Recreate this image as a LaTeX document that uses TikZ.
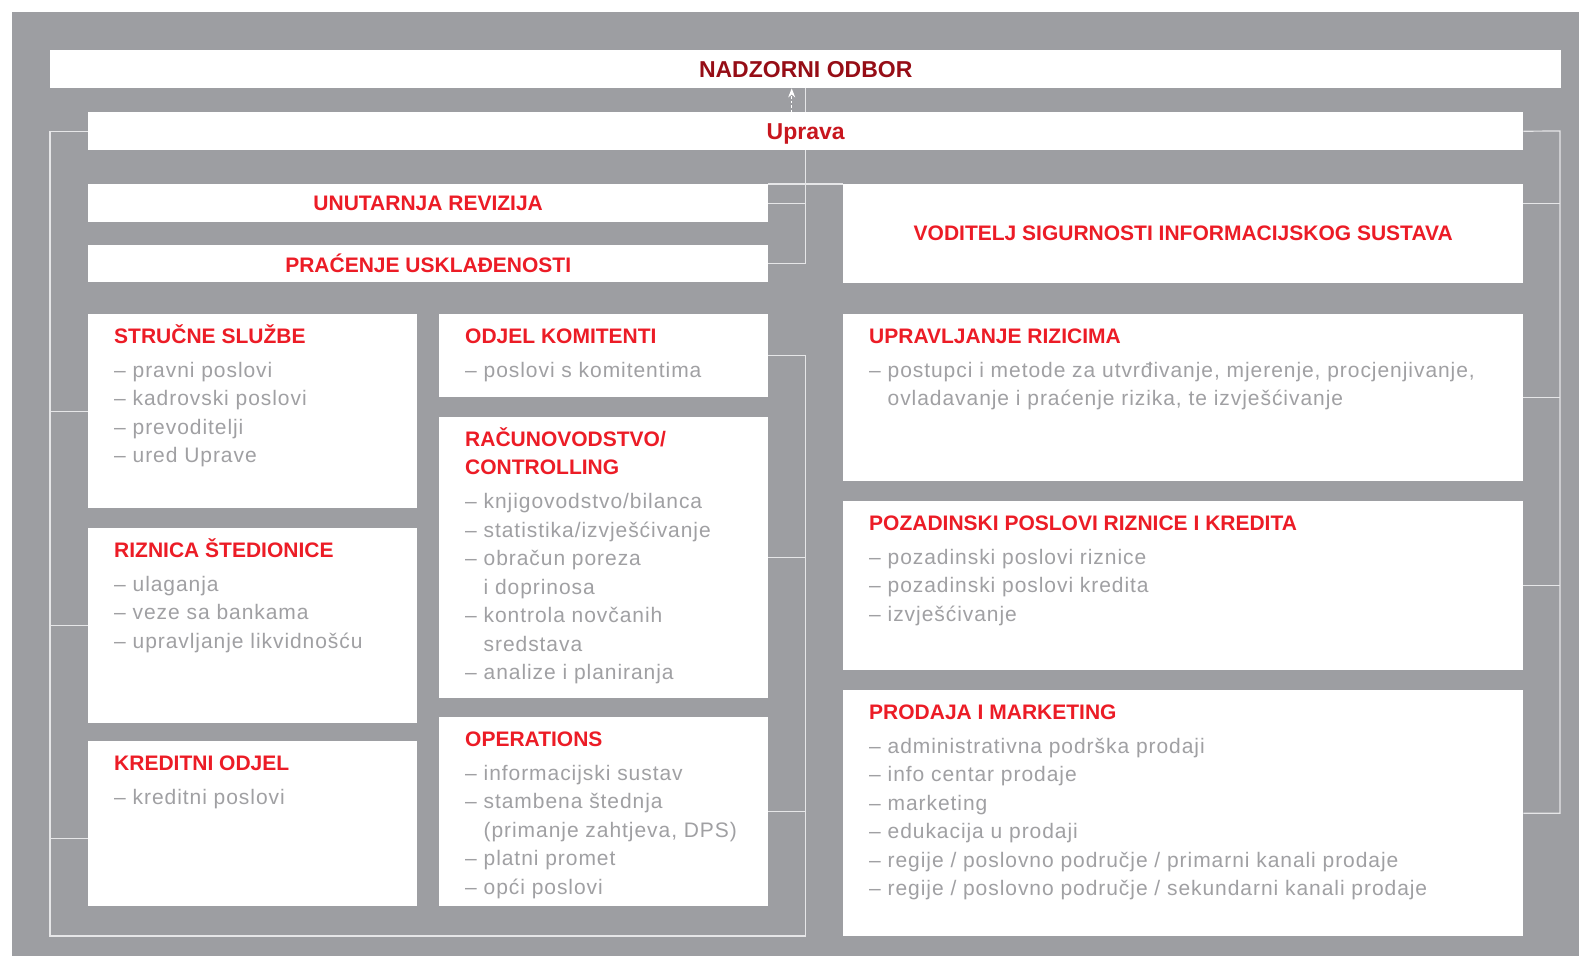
\documentclass[tikz,border=0pt]{standalone}
\usepackage{fontspec}
\setmainfont{Liberation Sans}
\newfontfamily\itemfont[LetterSpace=4.5]{Liberation Sans}
\usepackage{xcolor}
\usepackage{tikz}
\usetikzlibrary{arrows.meta,positioning,calc}
\definecolor{orggrey}{HTML}{9D9EA2}
\definecolor{orgtext}{HTML}{A0A0A3}
\definecolor{orgred}{HTML}{EC1C26}
\definecolor{orgmidred}{HTML}{C8161E}
\definecolor{orgdarkred}{HTML}{960D16}
\definecolor{orgline}{HTML}{E6E6E8}
\newcommand{\unitname}[1]{\rule{0pt}{22pt}{\rmfamily\fontsize{21}{28.5}\selectfont\bfseries\color{orgred}#1}}

\begin{document}
\begin{tikzpicture}[x=1pt,y=-1pt,
  unitbox/.style={rectangle,fill=white,inner sep=0,anchor=north west},
  unittext/.style={anchor=north west,inner sep=0,align=left,text=orgtext,font=\itemfont\fontsize{21}{28.5}\selectfont},
  bandtitle/.style={font=\fontsize{21}{24}\selectfont\bfseries,text=orgred},
  link/.style={draw=orgline,line width=1.2pt}]
  \useasboundingbox (0,0) rectangle (1579,956);
  \fill[white] (0,0) rectangle (1579,956);
  \fill[orggrey] (12,12) rectangle (1579,956);

  % board, management and the staff bands
  \node[unitbox,minimum width=1511pt,minimum height=38pt,font=\fontsize{23}{26}\selectfont\bfseries,text=orgdarkred] (nadzor) at (50,50) {NADZORNI ODBOR};
  \node[unitbox,minimum width=1435pt,minimum height=38pt,font=\fontsize{23}{26}\selectfont\bfseries,text=orgmidred,text depth=0pt] (uprava) at (88,112) {Uprava};
  \node[unitbox,bandtitle,minimum width=680pt,minimum height=38pt] (revizija) at (88,184) {UNUTARNJA REVIZIJA};
  \node[unitbox,bandtitle,minimum width=680pt,minimum height=37pt] (pracenje) at (88,245) {PRAĆENJE USKLAĐENOSTI};
  \node[unitbox,bandtitle,minimum width=680pt,minimum height=99pt] (voditelj) at (843,184) {VODITELJ SIGURNOSTI INFORMACIJSKOG SUSTAVA};

  % departments
  \foreach \nm/\x/\y/\w/\h in {strucne/88/314/329pt/194pt, riznica/88/528/329pt/195pt, kreditni/88/741/329pt/165pt,
    komitenti/439/314/329pt/83pt, racunovodstvo/439/417/329pt/281pt, operations/439/717/329pt/189pt,
    rizici/843/314/680pt/167pt, pozadinski/843/501/680pt/169pt, prodaja/843/690/680pt/246pt}{
      \node[unitbox,minimum width=\w,minimum height=\h] (\nm) at (\x,\y) {};
  }

  \node[unittext] (strucne-t) at ([xshift=26pt,yshift=-7pt]strucne.north west)
    {\unitname{STRUČNE SLUŽBE}\\[5.7pt]– pravni poslovi\\– kadrovski poslovi\\– prevoditelji\\– ured Uprave};
  \node[unittext] (riznica-t) at ([xshift=26pt,yshift=-7pt]riznica.north west)
    {\unitname{RIZNICA ŠTEDIONICE}\\[5.7pt]– ulaganja\\– veze sa bankama\\– upravljanje likvidnošću};
  \node[unittext] (kreditni-t) at ([xshift=26pt,yshift=-7pt]kreditni.north west)
    {\unitname{KREDITNI ODJEL}\\[5.7pt]– kreditni poslovi};
  \node[unittext] (komitenti-t) at ([xshift=26pt,yshift=-7pt]komitenti.north west)
    {\unitname{ODJEL KOMITENTI}\\[5.7pt]– poslovi s komitentima};
  \node[unittext] (racunovodstvo-t) at ([xshift=26pt,yshift=-7pt]racunovodstvo.north west)
    {\unitname{RAČUNOVODSTVO/}\\\unitname{CONTROLLING}\\[5.7pt]– knjigovodstvo/bilanca\\– statistika/izvješćivanje\\– obračun poreza\\\phantom{–\ }i doprinosa\\– kontrola novčanih\\\phantom{–\ }sredstava\\– analize i planiranja};
  \node[unittext] (operations-t) at ([xshift=26pt,yshift=-7pt]operations.north west)
    {\unitname{OPERATIONS}\\[5.7pt]– informacijski sustav\\– stambena štednja\\\phantom{–\ }(primanje zahtjeva, DPS)\\– platni promet\\– opći poslovi};
  \node[unittext] (rizici-t) at ([xshift=26pt,yshift=-7pt]rizici.north west)
    {\unitname{UPRAVLJANJE RIZICIMA}\\[5.7pt]– postupci i metode za utvrđivanje, mjerenje, procjenjivanje,\\\phantom{–\ }ovladavanje i praćenje rizika, te izvješćivanje};
  \node[unittext] (pozadinski-t) at ([xshift=26pt,yshift=-7pt]pozadinski.north west)
    {\unitname{POZADINSKI POSLOVI RIZNICE I KREDITA}\\[5.7pt]– pozadinski poslovi riznice\\– pozadinski poslovi kredita\\– izvješćivanje};
  \node[unittext] (prodaja-t) at ([xshift=26pt,yshift=-7pt]prodaja.north west)
    {\unitname{PRODAJA I MARKETING}\\[5.7pt]– administrativna podrška prodaji\\– info centar prodaje\\– marketing\\– edukacija u prodaji\\– regije / poslovno područje / primarni kanali prodaje\\– regije / poslovno područje / sekundarni kanali prodaje};

  % centre spine
  \draw[link] (nadzor.south) -- (uprava.north);
  \draw[link] (uprava.south) |- (pracenje.east);
  \draw[link] (revizija.east) -- (revizija.east -| uprava.south);
  \draw[link] (revizija.north east) -- (voditelj.north west);
  \draw[white,line width=1pt,dash pattern=on 2.5pt off 2pt,-{Stealth[length=9pt,width=7pt]}]
    ([xshift=-14pt]uprava.north) -- ([xshift=-14pt]nadzor.south);

  % left loop
  \coordinate (lcorner) at (50,936);
  \draw[link] (uprava.west) -| (lcorner) -- (uprava.south |- lcorner) |- (komitenti.east);
  \foreach \u in {strucne,riznica}
    \draw[link] (\u.west) -- (\u.west -| lcorner);
  \draw[link] ([yshift=-15pt]kreditni.west) -- ([yshift=-15pt]kreditni.west -| lcorner);
  \foreach \u in {racunovodstvo,operations}
    \draw[link] (\u.east) -- (\u.east -| uprava.south);

  % right loop
  \coordinate (rcorner) at (1560,131);
  \draw[link] (uprava.east) -- (rcorner) |- (prodaja.east);
  \draw[link] (voditelj.east |- revizija.east) -- (rcorner |- revizija.east);
  \foreach \u in {rizici,pozadinski}
    \draw[link] (\u.east) -- (\u.east -| rcorner);
\end{tikzpicture}
\end{document}
